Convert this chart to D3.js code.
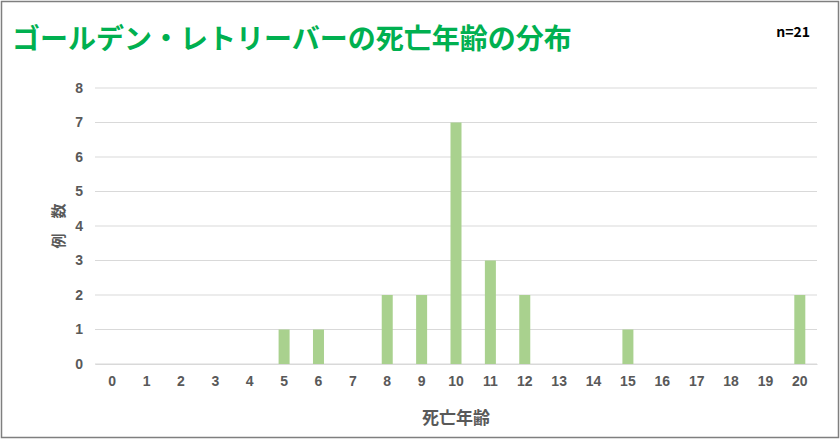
<!DOCTYPE html>
<html><head><meta charset="utf-8">
<script src="https://cdn.jsdelivr.net/npm/d3@7"></script>
<style>body{margin:0;background:#fff;font-family:"Noto Sans CJK JP","Noto Sans",sans-serif;}</style>
</head><body><div id="chart"></div>
<script>
const ages = d3.range(0, 21).map(String);
const counts = [0,0,0,0,0,1,1,0,2,2,7,3,2,0,0,1,0,0,0,0,2];
const yTicks = [0,1,2,3,4,5,6,7,8];

const W = 840, H = 439;
const margin = { top: 88, right: 23, bottom: 75, left: 95 };
const width = W - margin.left - margin.right;
const height = H - margin.top - margin.bottom;

const svg = d3.select('#chart').append('svg').attr('width', W).attr('height', H);
svg.append('rect').attr('x', 1.5).attr('y', 1.5).attr('width', W - 3).attr('height', H - 3)
  .attr('fill', '#fff').attr('stroke', '#7f7f7f').attr('stroke-width', 1.5);

svg.append('text').attr('x', 12).attr('y', 49).attr('fill', '#00b050')
  .attr('font-size', 28).attr('font-weight', 'bold').text('ゴールデン・レトリーバーの死亡年齢の分布');
svg.append('text').attr('x', 810).attr('y', 37).attr('text-anchor', 'end')
  .attr('font-size', 14).attr('font-weight', 'bold').attr('fill', '#000').text('n=21');

const g = svg.append('g').attr('transform', 'translate(' + margin.left + ',' + margin.top + ')');

const x = d3.scaleBand().domain(ages).range([0, width]).paddingInner(0.68).paddingOuter(0.34);
const y = d3.scaleLinear().domain([0, 8]).range([height, 0]);

g.append('g').selectAll('line').data(yTicks).join('line')
  .attr('x1', 0).attr('x2', width).attr('y1', d => y(d)).attr('y2', d => y(d))
  .attr('stroke', '#d9d9d9');

const yAxis = g.append('g').call(d3.axisLeft(y).tickValues(yTicks).tickSize(0).tickPadding(12));
yAxis.select('.domain').remove();
yAxis.selectAll('text').attr('font-size', 14).attr('font-weight', 'bold').attr('fill', '#595959');

const xAxis = g.append('g').attr('transform', 'translate(0,' + height + ')')
  .call(d3.axisBottom(x).tickSize(0).tickPadding(12));
xAxis.select('.domain').attr('stroke', '#d9d9d9');
xAxis.selectAll('text').attr('font-size', 14).attr('font-weight', 'bold').attr('fill', '#595959');

g.selectAll('.bar').data(counts).join('rect').attr('class', 'bar')
  .attr('x', (d, i) => x(ages[i])).attr('width', x.bandwidth())
  .attr('y', d => y(d)).attr('height', d => height - y(d)).attr('fill', '#a9d18e');

svg.append('text').attr('transform', 'translate(64,' + (margin.top + height / 2) + ') rotate(-90)')
  .attr('text-anchor', 'middle').attr('font-size', 15).attr('font-weight', 'bold').attr('fill', '#595959')
  .text('例　数');
svg.append('text').attr('x', margin.left + width / 2).attr('y', 424).attr('text-anchor', 'middle')
  .attr('font-size', 17).attr('font-weight', 'bold').attr('fill', '#595959').text('死亡年齢');
</script></body></html>
